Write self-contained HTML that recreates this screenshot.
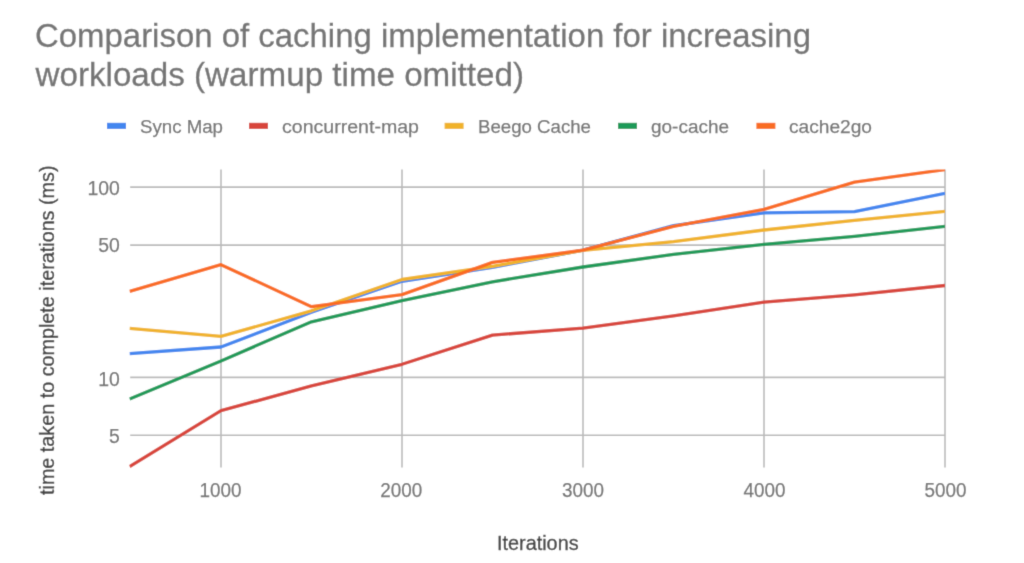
<!DOCTYPE html>
<html><head><meta charset="utf-8"><title>Chart</title>
<style>
html,body{margin:0;padding:0;background:#fff;}
body{width:1024px;height:563px;overflow:hidden;}
svg{display:block;font-family:"Liberation Sans", sans-serif;}
</style></head>
<body>
<svg width="1024" height="563" viewBox="0 0 1024 563">
<rect width="1024" height="563" fill="#ffffff"/>
<filter id="soft" x="0" y="0" width="1024" height="563" filterUnits="userSpaceOnUse"><feConvolveMatrix order="3" kernelMatrix="1 6 1 6 36 6 1 6 1" edgeMode="duplicate"/></filter><g filter="url(#soft)"><rect width="1024" height="563" fill="#ffffff"/>
<defs><clipPath id="pc"><rect x="129.3" y="169.5" width="815.7" height="304.0"/></clipPath></defs>
<line x1="130.2" y1="187.1" x2="945" y2="187.1" stroke="#bababa" stroke-width="1.6"/>
<line x1="130.2" y1="245.1" x2="945" y2="245.1" stroke="#bababa" stroke-width="1.6"/>
<line x1="130.2" y1="377.4" x2="945" y2="377.4" stroke="#bababa" stroke-width="1.6"/>
<line x1="130.2" y1="435.3" x2="945" y2="435.3" stroke="#bababa" stroke-width="1.6"/>
<line x1="221" y1="169.5" x2="221" y2="467.5" stroke="#bababa" stroke-width="1.6"/>
<line x1="402" y1="169.5" x2="402" y2="467.5" stroke="#bababa" stroke-width="1.6"/>
<line x1="583" y1="169.5" x2="583" y2="467.5" stroke="#bababa" stroke-width="1.6"/>
<line x1="764" y1="169.5" x2="764" y2="467.5" stroke="#bababa" stroke-width="1.6"/>
<line x1="945" y1="169.5" x2="945" y2="467.5" stroke="#bababa" stroke-width="1.6"/>
<g clip-path="url(#pc)" fill="none" stroke-width="3.3" stroke-linejoin="round" stroke-linecap="butt">
<polyline points="129.6,353.6 221,347.0 311.5,312.3 402,281.3 492.5,267.3 583,250.2 673.5,225.7 764,212.9 854.5,211.6 945,193.3" stroke="#4386ef"/>
<polyline points="129.6,466.5 221,410.7 311.5,385.9 402,364.3 492.5,335.1 583,328.1 673.5,315.8 764,302.2 854.5,294.8 945,285.5" stroke="#d8443a"/>
<polyline points="129.6,328.3 221,336.4 311.5,310.8 402,279.5 492.5,266.4 583,250.3 673.5,241.6 764,230.0 854.5,220.4 945,211.3" stroke="#f0b22a"/>
<polyline points="129.6,399.1 221,360.9 311.5,321.8 402,300.6 492.5,281.8 583,267.0 673.5,254.4 764,244.3 854.5,236.3 945,226.3" stroke="#1e9a58"/>
<polyline points="129.6,291.4 221,264.7 311.5,306.7 402,294.6 492.5,262.4 583,250.2 673.5,226.3 764,209.4 854.5,182.2 945,169.6" stroke="#f96c21"/>
</g>
<text x="35" y="46.8" font-size="32.3" fill="#757575" stroke="#757575" stroke-width="0.3" textLength="776" lengthAdjust="spacingAndGlyphs">Comparison of caching implementation for increasing</text>
<text x="35.5" y="85.5" font-size="32.3" fill="#757575" stroke="#757575" stroke-width="0.3" textLength="488.5" lengthAdjust="spacingAndGlyphs">workloads (warmup time omitted)</text>
<rect x="107" y="122.8" width="19" height="6.1" fill="#4386ef"/>
<text x="140" y="132.9" font-size="18" fill="#757575" stroke="#757575" stroke-width="0.25" textLength="83" lengthAdjust="spacingAndGlyphs">Sync Map</text>
<rect x="249" y="122.8" width="19" height="6.1" fill="#d8443a"/>
<text x="282" y="132.9" font-size="18" fill="#757575" stroke="#757575" stroke-width="0.25" textLength="137" lengthAdjust="spacingAndGlyphs">concurrent-map</text>
<rect x="444.6" y="122.8" width="19" height="6.1" fill="#f0b22a"/>
<text x="478" y="132.9" font-size="18" fill="#757575" stroke="#757575" stroke-width="0.25" textLength="113" lengthAdjust="spacingAndGlyphs">Beego Cache</text>
<rect x="618" y="122.8" width="19" height="6.1" fill="#1e9a58"/>
<text x="651" y="132.9" font-size="18" fill="#757575" stroke="#757575" stroke-width="0.25" textLength="78" lengthAdjust="spacingAndGlyphs">go-cache</text>
<rect x="756.4" y="122.8" width="19" height="6.1" fill="#f96c21"/>
<text x="789" y="132.9" font-size="18" fill="#757575" stroke="#757575" stroke-width="0.25" textLength="83" lengthAdjust="spacingAndGlyphs">cache2go</text>
<text x="119.8" y="194.9" font-size="19.4" fill="#757575" stroke="#757575" stroke-width="0.25" text-anchor="end">100</text>
<text x="119.8" y="252.1" font-size="19.4" fill="#757575" stroke="#757575" stroke-width="0.25" text-anchor="end">50</text>
<text x="119.8" y="385.9" font-size="19.4" fill="#757575" stroke="#757575" stroke-width="0.25" text-anchor="end">10</text>
<text x="119.8" y="443.15000000000003" font-size="19.4" fill="#757575" stroke="#757575" stroke-width="0.25" text-anchor="end">5</text>
<text x="220.5" y="496.6" font-size="19.6" fill="#757575" stroke="#757575" stroke-width="0.25" text-anchor="middle" textLength="42" lengthAdjust="spacingAndGlyphs">1000</text>
<text x="401.3" y="496.6" font-size="19.6" fill="#757575" stroke="#757575" stroke-width="0.25" text-anchor="middle" textLength="42" lengthAdjust="spacingAndGlyphs">2000</text>
<text x="582.9" y="496.6" font-size="19.6" fill="#757575" stroke="#757575" stroke-width="0.25" text-anchor="middle" textLength="42" lengthAdjust="spacingAndGlyphs">3000</text>
<text x="764.4" y="496.6" font-size="19.6" fill="#757575" stroke="#757575" stroke-width="0.25" text-anchor="middle" textLength="42" lengthAdjust="spacingAndGlyphs">4000</text>
<text x="945.6" y="496.6" font-size="19.6" fill="#757575" stroke="#757575" stroke-width="0.25" text-anchor="middle" textLength="42" lengthAdjust="spacingAndGlyphs">5000</text>
<text x="497" y="549.8" font-size="19.3" fill="#434343" stroke="#434343" stroke-width="0.35" textLength="81.6" lengthAdjust="spacingAndGlyphs">Iterations</text>
<text transform="translate(53.9,495) rotate(-90)" x="0" y="0" font-size="19.5" fill="#434343" stroke="#434343" stroke-width="0.35" textLength="329.5" lengthAdjust="spacingAndGlyphs">time taken to complete iterations (ms)</text>
</g>
</svg>
</body></html>
